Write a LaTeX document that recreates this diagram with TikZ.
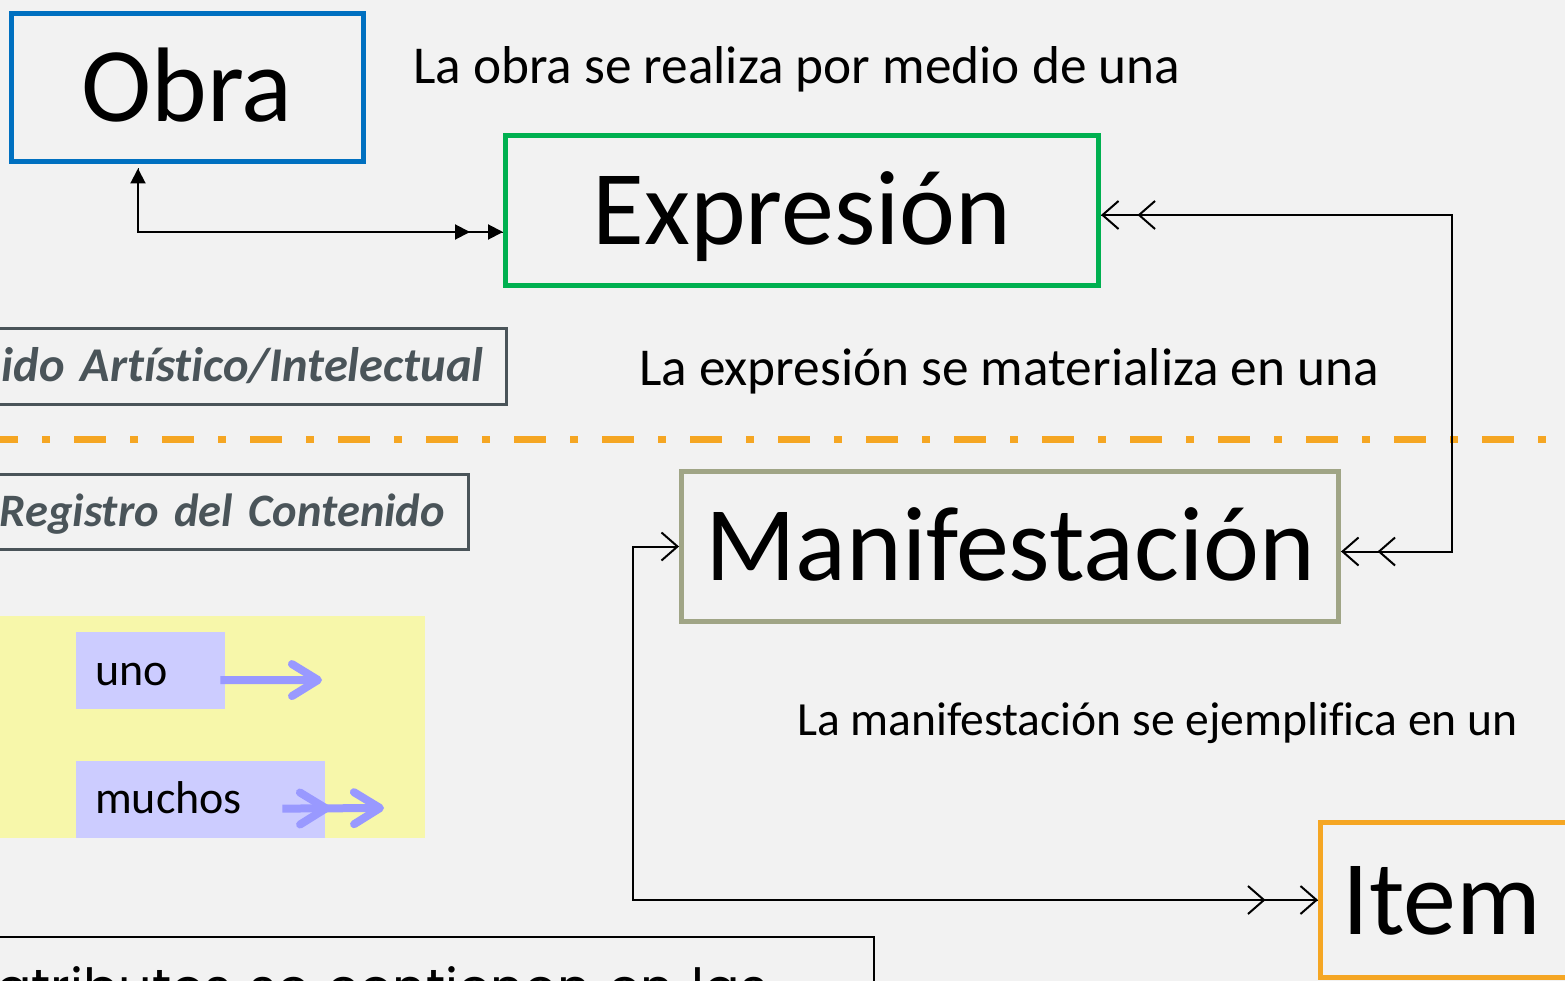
\documentclass[tikz,border=0pt]{standalone}
\usepackage{fontspec}
\setmainfont{Carlito}[Ligatures=NoCommon]
\newfontfamily\geofont{Poppins}
\usepackage{tikz}
\usetikzlibrary {arrows.meta,
                 positioning}
\definecolor{fondo}{HTML}{F2F2F2}
\definecolor{azul}{HTML}{0070C0}
\definecolor{verde}{HTML}{00B050}
\definecolor{naranja}{HTML}{F5A623}
\definecolor{oliva}{HTML}{A0A586}
\definecolor{pizarra}{HTML}{4A5459}
\definecolor{amarillo}{HTML}{F7F7AA}
\definecolor{lila}{HTML}{CCCCFF}
\definecolor{violeta}{HTML}{9999FF}
\tikzset{
        entidad/.style={draw, line width=5pt, inner sep=0pt, minimum height=150pt,
                        text height=68pt, text depth=0pt,
                        font=\fontsize{106}{112}\selectfont},
        nota/.style={anchor=base west, inner sep=0pt, font=\fontsize{53.3}{60}\selectfont},
        nivel/.style={draw=pizarra, line width=3pt, text=pizarra, anchor=east,
                      align=right, text width=560pt, inner xsep=23pt, inner ysep=0pt,
                      minimum height=75pt, text height=30pt, text depth=0pt,
                      font=\fontsize{46.5}{50}\selectfont\bfseries\itshape},
        clave/.style={fill=lila, anchor=north west, align=left, inner xsep=19pt,
                      inner ysep=0pt, minimum height=77pt, text height=29.6pt,
                      text depth=0pt, font=\fontsize{46}{50}\selectfont},
        enlace/.style={line width=2pt, preaction={draw, -}},
        ligaobra/.style={enlace,
                         {Triangle[length=15pt,width=15pt]}-{Triangle[length=15pt,width=15pt,sep=18pt]Triangle[length=15pt,width=15pt]}},
        ligaexpr/.style={enlace,
                         {Straight Barb[length=16pt,width=28pt]Straight Barb[length=16pt,width=28pt,sep=18pt]}-{Straight Barb[length=16pt,width=28pt,sep=18pt]Straight Barb[length=16pt,width=28pt]}},
        ligaitem/.style={enlace,
                         {Straight Barb[length=16pt,width=28pt]}-{Straight Barb[length=16pt,width=28pt,sep=34pt]Straight Barb[length=16pt,width=28pt]}},
        flechauno/.style={line width=8pt, violeta,
                          -{Straight Barb[length=26pt,width=32pt,round]}},
        flechamuchos/.style={line width=8pt, violeta,
                             -{Straight Barb[length=26pt,width=32pt,round,sep=20pt]Straight Barb[length=26pt,width=32pt,round]}},
        divisoria/.style={naranja, line width=7pt,
                          dash pattern=on 32pt off 24pt on 8pt off 24pt},
 }

\begin{document}
\begin{tikzpicture}[x=1pt, y=-1pt]
    \path[use as bounding box, fill=fondo] (0,0) rectangle (1565,981);
    \clip (0,0) rectangle (1565,981);

    % entidades
    \node[entidad, draw=azul, minimum width=352pt, minimum height=148pt] (obra) at (187,88) {Obra};
    \node[entidad, draw=verde, minimum width=593pt] (expr) at (802,210.5) {Expresión};
    \node[entidad, draw=oliva, minimum width=657pt] (manif) at (1010,546.5) {Manifestación};
    \node[entidad, draw=naranja, anchor=north west, minimum height=155pt,
          text width=260pt, align=left, inner xsep=22pt] (item) at (1318,820) {Item};

    % textos
    \node[nota] (txtobra) at (413,84) {La obra se realiza por medio de una};
    \node[nota] (txtexpr) at (639,385) {La expresión se materializa en una};
    \node[nota, font=\fontsize{47.6}{54}\selectfont] (txtmanif) at (797,735) {La manifestación se ejemplifica en un};

    % niveles
    \node[nivel, font=\fontsize{48.5}{52}\selectfont\bfseries\itshape] (contenido) at (508,366.5) {nido Artístico/Intelectual};
    \node[nivel] (registro) at (469.5,511.5) {Registro del Contenido};

    \coordinate (divIzq) at (-14,439);
    \coordinate (divDer) at (1600,439);
    \draw[divisoria] (divIzq) -- (divDer);

    % leyenda
    \node[fill=amarillo, anchor=north west, inner sep=0pt,
          minimum width=435pt, minimum height=222pt] (leyenda) at (-10,616) {};
    \node[clave, text width=111pt] (uno) at (76,632) {uno};
    \node[clave, below=51pt of uno.south west, anchor=north west, text width=211pt] (muchos) {muchos};

    \coordinate (unoFin) at (322,680);
    \coordinate (muchosFin) at (384,808);
    \draw[flechauno] ([shift={(-5pt,-9.5pt)}]uno.east) -- (unoFin);
    \draw[flechamuchos] ([shift={(-43pt,-9.5pt)}]muchos.east) -- (muchosFin);

    % relaciones
    \draw[ligaobra] ([xshift=-49pt,yshift=-4pt]obra.south) |- ([yshift=-21.5pt]expr.west);
    \draw[ligaexpr] ([yshift=-4.5pt]expr.east) -- ++(351,0) |- ([yshift=-5pt]manif.east);
    \draw[ligaitem] (manif.west) -- ++(-46,0) |- (item.west);

    \node[draw, line width=2pt, anchor=north west, text width=858pt, align=left,
          inner xsep=20pt, inner ysep=18pt, minimum height=100pt,
          font=\geofont\fontsize{52.5}{62}\selectfont] (atributos) at (-25,936)
          {atributos se contienen en las};
\end{tikzpicture}
\end{document}
